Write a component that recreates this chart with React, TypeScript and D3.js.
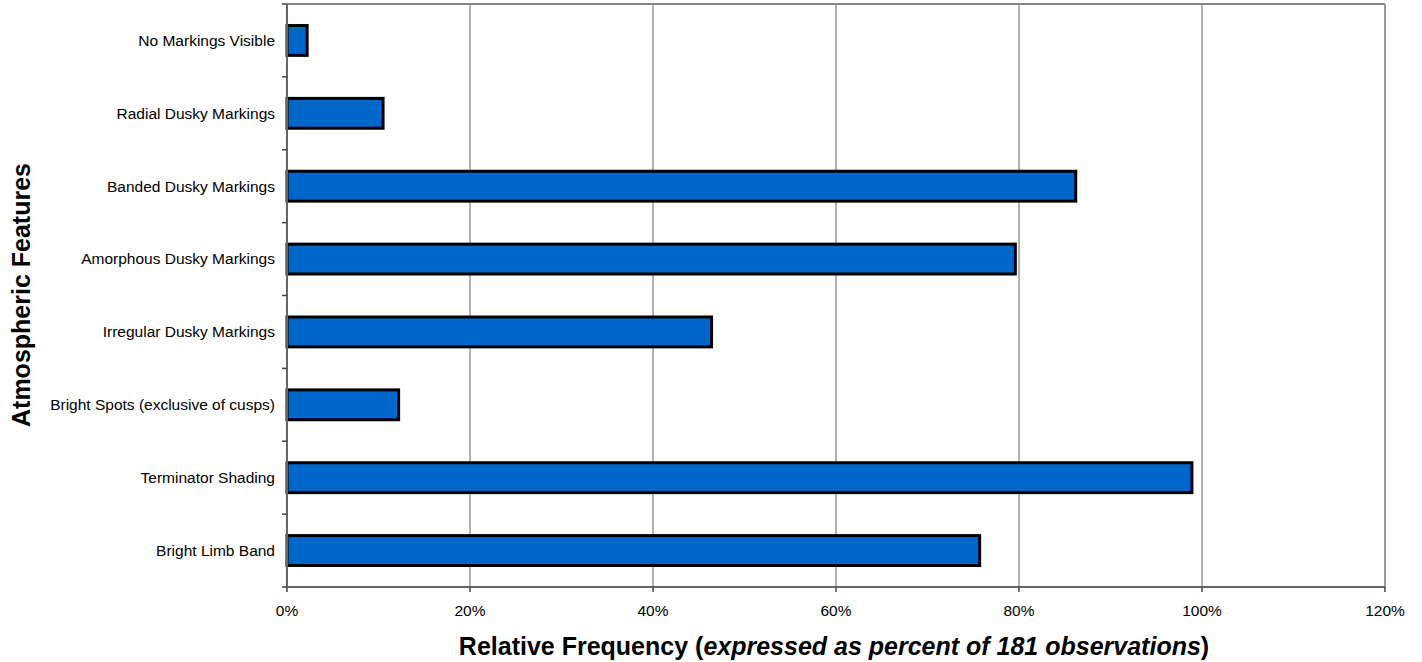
import React from "react";
import * as d3 from "d3";

const categories = [
  "No Markings Visible",
  "Radial Dusky Markings",
  "Banded Dusky Markings",
  "Amorphous Dusky Markings",
  "Irregular Dusky Markings",
  "Bright Spots (exclusive of cusps)",
  "Terminator Shading",
  "Bright Limb Band",
];
const values = [2.2, 10.5, 86.2, 79.6, 46.4, 12.2, 98.9, 75.7];
const xTicks = [0, 20, 40, 60, 80, 100, 120];

export default function App() {
  const W = 1422, H = 662;
  const left = 287, right = 1385, top = 4, bottom = 587;
  const x = d3.scaleLinear().domain([0, 120]).range([left, right]);
  const y = d3.scaleBand().domain(categories).range([top, bottom]).paddingInner(0.59).paddingOuter(0.295);
  const step = (bottom - top) / categories.length;
  const font = "Liberation Sans, Arial, sans-serif";
  return (
    <svg width={W} height={H} style={{ position: "absolute", left: 0, top: 0 }} fontFamily={font}>
      <rect x={0} y={0} width={W} height={H} fill="#fff" />
      {xTicks.slice(1, -1).map((t) => (
        <line key={t} x1={x(t)} x2={x(t)} y1={top} y2={bottom} stroke="#666" strokeWidth={1} />
      ))}
      <line x1={left} x2={right} y1={top} y2={top} stroke="#888" strokeWidth={2} />
      <line x1={right} x2={right} y1={top} y2={bottom} stroke="#999" strokeWidth={2} />
      {categories.map((c, i) => (
        <rect key={c} x={x(0)} y={y(c)!} width={x(values[i]) - x(0)} height={y.bandwidth()}
          fill="#0066CC" stroke="#000" strokeWidth={3} />
      ))}
      <line x1={left} x2={right} y1={bottom} y2={bottom} stroke="#666" strokeWidth={2} />
      <line x1={left} x2={left} y1={top} y2={bottom} stroke="#666" strokeWidth={2} />
      {xTicks.map((t) => (
        <g key={t}>
          <line x1={x(t)} x2={x(t)} y1={bottom} y2={bottom + 5} stroke="#444" strokeWidth={1.5} />
          <text x={x(t)} y={616} textAnchor="middle" fontSize={15.5} fill="#000">{t}%</text>
        </g>
      ))}
      {d3.range(categories.length + 1).map((i) => (
        <line key={i} x1={left - 5} x2={left} y1={top + i * step} y2={top + i * step} stroke="#444" strokeWidth={1.5} />
      ))}
      {categories.map((c) => (
        <text key={c} x={275} y={y(c)! + y.bandwidth() / 2} dy="0.35em" textAnchor="end" fontSize={15.5} fill="#000">{c}</text>
      ))}
      <text x={834} y={655} textAnchor="middle" fontSize={25} fontWeight="bold" fill="#000">
        Relative Frequency (<tspan fontStyle="italic">expressed as percent of 181 observations</tspan>)
      </text>
      <text transform={`translate(30,295) rotate(-90)`} textAnchor="middle" fontSize={25} fontWeight="bold" fill="#000">
        Atmospheric Features
      </text>
    </svg>
  );
}
